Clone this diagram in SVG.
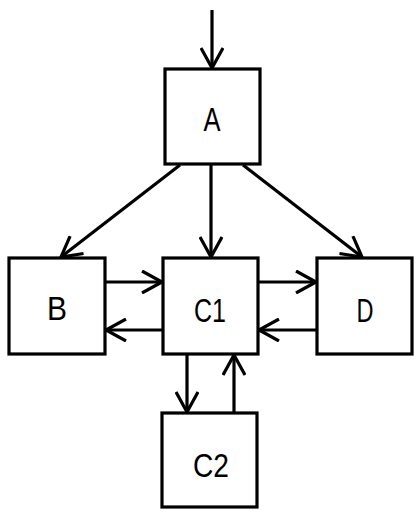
<svg xmlns="http://www.w3.org/2000/svg" width="419" height="516" viewBox="0 0 419 516">
<defs>
<marker id="ah" viewBox="-22 -12 24 24" refX="0" refY="0" markerWidth="24" markerHeight="24" markerUnits="userSpaceOnUse" orient="auto">
<path d="M-20,-11 L0,0 L-20,11" fill="none" stroke="#000" stroke-width="3.2"/>
</marker>
</defs>
<style>
rect{fill:#fff;stroke:#000;stroke-width:3.2}
text{font-family:"Liberation Sans",Arial,sans-serif;font-size:33px;fill:#000;text-anchor:middle}
.c line{stroke:#000;stroke-width:3.2;marker-end:url(#ah)}
</style>
<g class="c" id="connectors">
<line x1="212" y1="10" x2="212" y2="68"/>
<line x1="180" y1="165" x2="61" y2="257"/>
<line x1="211" y1="165" x2="211" y2="257"/>
<line x1="243" y1="165" x2="362" y2="257"/>
<line x1="105" y1="282" x2="162" y2="282"/>
<line x1="163" y1="330" x2="106" y2="330"/>
<line x1="258" y1="282" x2="316" y2="282"/>
<line x1="317" y1="330" x2="259" y2="330"/>
<line x1="187" y1="354" x2="187" y2="412"/>
<line x1="234" y1="413" x2="234" y2="355"/>
</g>
<g id="A"><rect x="165" y="69" width="95" height="95"/><text x="212" y="131" textLength="17" lengthAdjust="spacingAndGlyphs">A</text></g>
<g id="B"><rect x="9" y="258" width="96" height="96"/><text x="57" y="320" textLength="20" lengthAdjust="spacingAndGlyphs">B</text></g>
<g id="C1"><rect x="163" y="258" width="95" height="96"/><text x="210" y="322" textLength="32" lengthAdjust="spacingAndGlyphs">C1</text></g>
<g id="D"><rect x="317" y="258" width="95" height="96"/><text x="365" y="322" textLength="17" lengthAdjust="spacingAndGlyphs">D</text></g>
<g id="C2"><rect x="162" y="413" width="95" height="94"/><text x="211" y="477" textLength="36" lengthAdjust="spacingAndGlyphs">C2</text></g>
</svg>
